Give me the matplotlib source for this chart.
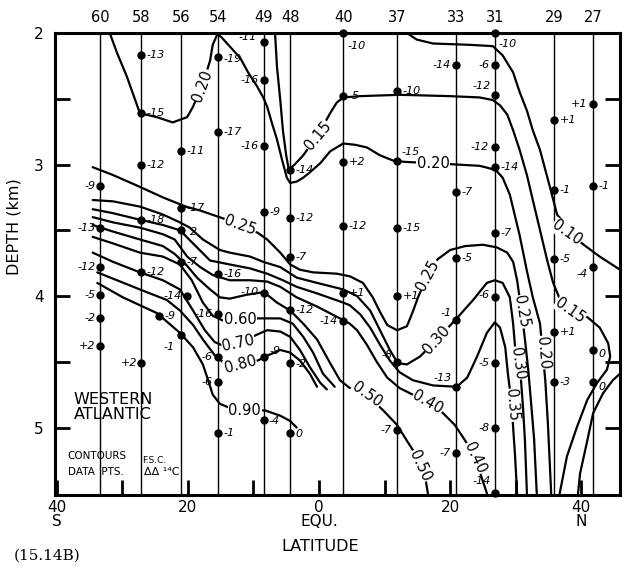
import matplotlib
matplotlib.use("Agg")
import matplotlib.pyplot as plt
import numpy as np

plt.rcParams['font.family'] = ['DejaVu Sans']

# stations (top labels) and their latitudes
station_names = ['60', '58', '56', '54', '49', '48', '40', '37', '33', '31', '29', '27']
station_lat = [-33.4, -27.1, -21.0, -15.4, -8.4, -4.4, 3.7, 11.9, 20.9, 26.8, 35.8, 41.8]

# data points: latitude, depth (km), delta-delta 14C value
pt_lat = ([-33.4] * 6 + [-27.1] * 6 + [-21.0] * 5 + [-24.4, -20.1] + [-15.4] * 7
          + [-8.4] * 7 + [-4.4] * 6 + [3.7] * 6 + [11.9] * 6 + [20.9] * 6
          + [26.8] * 10 + [35.8] * 5 + [41.8] * 5)
pt_depth = [3.16, 3.48, 3.78, 3.99, 4.17, 4.38,
            2.17, 2.61, 3.00, 3.42, 3.82, 4.51,
            2.90, 3.33, 3.50, 3.74, 4.30,
            4.15, 4.00,
            2.18, 2.75, 3.83, 4.14, 4.46, 4.65, 5.04,
            2.07, 2.36, 2.86, 3.36, 3.98, 4.46, 4.94,
            3.04, 3.41, 3.70, 4.11, 4.51, 5.04,
            2.00, 2.48, 2.98, 3.47, 3.98, 4.19,
            2.44, 2.97, 3.48, 4.00, 4.50, 5.02,
            2.24, 3.21, 3.71, 4.18, 4.69, 5.19,
            2.00, 2.24, 2.47, 2.87, 3.02, 3.52, 4.01, 4.51, 5.00, 5.50,
            2.66, 3.19, 3.72, 4.27, 4.65,
            2.54, 3.16, 3.78, 4.41, 4.65]
pt_text = ['-9', '-13', '-12', '-5', '-2', '+2',
           '-13', '-15', '-12', '-18', '-12', '+2',
           '-11', '-17', '2', '-7', '-1',
           '-9', '-14',
           '-19', '-17', '-16', '-16', '-6', '-6', '-1',
           '-11', '-16', '-16', '-9', '-10', '-9', '-4',
           '-14', '-12', '-7', '-12', '-2', '0',
           '-10', '-5', '+2', '-12', '+1', '-14',
           '-10', '-15', '-15', '+1', '-8', '-7',
           '-14', '-7', '-5', '-1', '-13', '-7',
           '-10', '-6', '-12', '-12', '-14', '-7', '-6', '-5', '-8', '-14',
           '+1', '-1', '-5', '+1', '-3',
           '+1', '-1', '-4', '0', '0']
# label offsets in points (style only)
pt_off = [(-3, 0), (-3, 0), (-3, 0), (-3, 0), (-3, 0), (-3, 0),
          (4, 0), (4, 0), (4, 0), (4, 0), (4, 0), (-3, 0),
          (4, 0), (4, 0), (6, -1), (4, 0), (-5, -8),
          (4, 0), (-4, 0),
          (4, -2), (4, 0), (4, 0), (-4, 0), (-4, 0), (-4, 0), (4, 0),
          (-5, 4), (-4, 0), (-4, 0), (4, 0), (-4, 1), (4, 4), (3, -1),
          (4, 0), (4, 0), (4, 0), (4, 0), (4, -1), (4, -1),
          (3, -9), (4, 0), (4, 0), (4, 0), (4, 0), (-4, 0),
          (4, 0), (3, 6), (4, 0), (4, 0), (-3, 5), (-4, 0),
          (-4, 0), (4, 0), (4, 0), (-3, 5), (-3, 6), (-4, 0),
          (3, -8), (-4, 0), (-3, 6), (-4, 0), (4, 0), (4, 0), (-4, 2), (-4, 0), (-4, 0), (-3, 9),
          (4, 0), (4, 0), (4, 0), (4, 0), (4, 0),
          (-4, 0), (4, 0), (-4, -5), (4, -3), (4, -4)]

# hand-drawn contour traces (latitude, depth)
c010_lat = [13.4, 14.9, 17.4, 23.0, 26.5, 28.0, 29.6, 30.6, 31.7, 32.6, 33.7, 35.2, 36.3, 39.3, 40.9, 42.8, 45.9]
c010_dep = [2.00, 2.05, 2.08, 2.09, 2.10, 2.17, 2.30, 2.45, 2.59, 2.74, 2.89, 3.17, 3.38, 3.57, 3.63, 3.70, 3.80]

c015_lat = [-6.7, -6.4, -5.9, -5.5, -5.0, -4.6, -3.7, -2.4, -0.2, 1.7, 2.7, 3.7, 6.3, 12.3, 19.9, 24.5, 26.5,
            27.6, 28.7, 29.6, 30.6, 31.7, 32.6, 33.7, 34.8, 35.7, 36.7, 38.3, 40.9, 42.8, 44.1, 44.4, 43.9,
            42.4, 40.9, 39.3, 37.8, 36.7]
c015_dep = [2.00, 2.26, 2.51, 2.74, 2.93, 3.04, 3.00, 2.93, 2.78, 2.61, 2.53, 2.49, 2.48, 2.47, 2.48, 2.49, 2.51,
            2.55, 2.62, 2.74, 2.89, 3.08, 3.27, 3.50, 3.73, 3.90, 4.02, 4.11, 4.16, 4.24, 4.36, 4.46, 4.56,
            4.66, 4.79, 5.00, 5.22, 5.50]

c020_lat = [-31.9, -30.8, -29.3, -27.3, -24.7, -22.3, -20.1, -19.2, -17.8, -16.6, -16.2, -15.5, -14.9, -14.0,
            -12.0, -10.8, -9.5, -8.5, -7.9, -7.2, -6.4, -5.6, -4.9, -4.4, -3.4, -2.4, -1.4, 0.2, 1.7, 3.7,
            5.5, 7.3, 9.3, 11.3, 13.1, 17.4, 21.0, 24.5, 26.1, 27.1, 28.0, 29.1, 30.6, 31.7, 32.6, 33.7,
            34.1, 34.5, 34.9, 35.4]
c020_dep = [2.00, 2.15, 2.33, 2.61, 2.64, 2.68, 2.64, 2.56, 2.40, 2.21, 2.09, 2.01, 2.03, 2.08,
            2.19, 2.30, 2.40, 2.49, 2.56, 2.68, 2.81, 2.97, 3.10, 3.14, 3.13, 3.10, 3.06, 2.99, 2.90, 2.84,
            2.85, 2.87, 2.93, 2.97, 2.98, 2.99, 3.00, 3.01, 3.03, 3.05, 3.10, 3.23, 3.54, 3.81, 4.01, 4.21,
            4.43, 4.64, 4.97, 5.50]

c025_lat = [-34.5, -31.4, -27.3, -23.8, -20.3, -18.1, -14.6, -12.0, -9.3, -7.9, -5.9, -4.4, -2.9, -0.9, 2.7,
            4.7, 6.7, 8.2, 9.3, 10.4, 11.9, 13.4, 14.3, 15.1, 16.6, 18.1, 20.0, 22.3, 25.0, 27.1, 28.7, 29.6,
            30.2, 30.9, 31.4, 31.9, 32.3, 32.8, 33.2]
c025_dep = [3.02, 3.08, 3.17, 3.25, 3.32, 3.35, 3.41, 3.46, 3.52, 3.57, 3.67, 3.76, 3.80, 3.82, 3.83,
            3.85, 3.90, 4.01, 4.12, 4.22, 4.26, 4.23, 4.12, 4.01, 3.84, 3.72, 3.65, 3.62, 3.61, 3.63, 3.67, 3.74,
            3.88, 4.12, 4.33, 4.56, 4.79, 5.09, 5.50]

c030_lat = [-34.5, -31.4, -27.3, -23.8, -21.2, -19.7, -17.7, -15.1, -13.6, -10.5, -8.5, -5.9, -3.4, -0.3, 3.7,
            5.8, 7.8, 9.3, 10.8, 12.0, 13.4, 15.4, 18.0, 21.0, 23.5, 25.6, 26.8, 28.0, 29.1, 29.6, 29.9, 30.3,
            30.8, 31.1, 31.4, 31.7]
c030_dep = [3.27, 3.28, 3.32, 3.38, 3.44, 3.48, 3.57, 3.65, 3.67, 3.70, 3.74, 3.78, 3.86, 3.90, 3.95,
            4.00, 4.11, 4.26, 4.41, 4.51, 4.52, 4.46, 4.33, 4.17, 4.03, 3.90, 3.88, 3.90, 4.01, 4.21, 4.39, 4.51,
            4.64, 4.84, 5.10, 5.50]

c035_lat = [-34.5, -31.4, -27.3, -23.8, -21.2, -18.6, -16.6, -13.6, -10.5, -7.9, -5.5, -3.4, -0.3, 3.7, 4.7,
            6.3, 7.8, 9.3, 10.8, 12.3, 14.3, 17.4, 21.0, 22.6, 24.1, 25.6, 26.8, 27.6, 28.4, 28.8, 29.4, 29.6,
            29.9, 30.2]
c035_dep = [3.34, 3.37, 3.42, 3.46, 3.50, 3.63, 3.73, 3.76, 3.79, 3.83, 3.88, 3.93, 3.98, 4.05, 4.07,
            4.14, 4.24, 4.37, 4.49, 4.58, 4.64, 4.68, 4.69, 4.62, 4.46, 4.28, 4.20, 4.24, 4.39, 4.59, 4.83, 5.00,
            5.22, 5.50]

c040_lat = [-34.5, -31.4, -27.3, -23.8, -22.0, -20.1, -18.1, -16.2, -13.6, -10.5, -7.9, -5.9, -3.4, -0.3, 3.2,
            4.7, 5.8, 7.3, 8.8, 10.4, 12.3, 14.3, 16.6, 18.9, 20.7, 22.3, 23.8, 24.8, 25.6]
c040_dep = [3.40, 3.44, 3.48, 3.53, 3.57, 3.70, 3.78, 3.84, 3.88, 3.88, 3.89, 3.93, 4.01, 4.08, 4.17,
            4.21, 4.26, 4.37, 4.50, 4.62, 4.70, 4.75, 4.81, 4.89, 4.98, 5.10, 5.23, 5.38, 5.50]

c050_lat = [-34.5, -31.4, -27.3, -23.8, -22.0, -20.1, -18.6, -16.6, -15.1, -13.6, -11.0, -8.4, -6.4, -4.4, -2.4,
            -0.3, 1.7, 3.2, 4.7, 7.3, 9.8, 11.9, 13.4, 14.3, 15.4, 16.3, 16.6]
c050_dep = [3.46, 3.51, 3.57, 3.62, 3.68, 3.77, 3.86, 3.95, 4.01, 4.02, 3.99, 3.97, 4.05, 4.11, 4.21,
            4.33, 4.51, 4.64, 4.70, 4.75, 4.87, 4.98, 5.10, 5.17, 5.29, 5.41, 5.50]

c060_lat = [-34.5, -31.4, -27.3, -23.8, -21.2, -19.4, -17.7, -16.2, -14.5, -12.0, -9.3, -5.9, -4.0, -2.4, -0.9, 0.6, 2.4]
c060_dep = [3.55, 3.60, 3.67, 3.70, 3.76, 3.88, 4.05, 4.15, 4.19, 4.18, 4.17, 4.17, 4.21, 4.31, 4.43, 4.59, 4.69]

c070_lat = [-34.5, -31.4, -27.3, -23.8, -21.2, -19.2, -17.4, -15.9, -14.5, -12.3, -9.3, -7.9, -5.9, -4.4, -2.9, -1.4, 0.2, 1.2]
c070_dep = [3.67, 3.74, 3.82, 3.88, 3.95, 4.11, 4.26, 4.35, 4.38, 4.36, 4.29, 4.26, 4.27, 4.31, 4.41, 4.54, 4.66, 4.71]

c080_lat = [-33.8, -30.3, -27.3, -23.2, -21.2, -19.2, -17.7, -15.9, -14.2, -12.0, -9.3, -8.2, -5.9, -4.4, -2.9, -1.4, -0.3]
c080_dep = [3.82, 3.89, 3.95, 4.03, 4.11, 4.22, 4.33, 4.45, 4.52, 4.52, 4.49, 4.46, 4.41, 4.43, 4.49, 4.59, 4.69]

c090_lat = [-33.8, -29.9, -24.7, -21.2, -19.2, -17.7, -16.9, -16.2, -15.1, -13.6, -11.3, -8.2, -5.9, -4.4, -3.4]
c090_dep = [3.90, 4.01, 4.13, 4.28, 4.39, 4.52, 4.64, 4.75, 4.82, 4.85, 4.87, 4.87, 4.91, 4.95, 5.00]

cx_lat = [39.5, 39.8, 40.9, 41.8, 43.3, 44.8, 45.9]
cx_dep = [5.50, 5.35, 5.10, 4.89, 4.74, 4.64, 4.59]

contours = [(c010_lat, c010_dep), (c015_lat, c015_dep), (c020_lat, c020_dep), (c025_lat, c025_dep),
            (c030_lat, c030_dep), (c035_lat, c035_dep), (c040_lat, c040_dep), (c050_lat, c050_dep),
            (c060_lat, c060_dep), (c070_lat, c070_dep), (c080_lat, c080_dep), (c090_lat, c090_dep),
            (cx_lat, cx_dep)]

# contour labels: text, latitude, depth, rotation
clab_text = ['0.20', '0.15', '0.20', '0.10', '0.25', '0.60', '0.70', '0.80', '0.90', '0.50', '0.50',
             '0.40', '0.40', '0.30', '0.25', '0.25', '0.30', '0.35', '0.20', '0.15']
clab_lat = [-17.8, -0.2, 17.4, 37.8, -12.0, -12.0, -12.3, -12.0, -11.3, 7.3, 15.4,
            16.6, 23.8, 18.0, 16.6, 30.9, 30.3, 29.4, 34.1, 38.3]
clab_dep = [2.40, 2.78, 2.99, 3.52, 3.46, 4.18, 4.36, 4.52, 4.87, 4.75, 5.29,
            4.81, 5.23, 4.33, 3.84, 4.12, 4.51, 4.83, 4.43, 4.11]
clab_rot = [70, 50, 0, -35, -20, 0, 12, 15, 0, -35, -65,
            -30, -65, 48, 62, -80, -82, -85, -85, -35]

fig = plt.figure(figsize=(6.26, 5.68), dpi=100)
ax = fig.add_axes([0.0879, 0.1285, 0.9026, 0.8134])
ax.set_xlim(-40.24, 45.9)
ax.set_ylim(5.513, 2.0)

ax.vlines(station_lat, 2.0, 5.513, color='black', lw=1.0, zorder=1)
for lat, dep in contours:
    ax.plot(lat, dep, color='black', lw=1.6, solid_capstyle='round', zorder=2)

for t, x, y, r in zip(clab_text, clab_lat, clab_dep, clab_rot):
    ax.text(x, y, t, rotation=r, ha='center', va='center', rotation_mode='anchor',
            fontsize=10.5, zorder=4,
            bbox=dict(facecolor='white', edgecolor='none', pad=0.3))

ax.plot(pt_lat, pt_depth, 'o', color='black', ms=5, zorder=5, clip_on=False)
for x, y, t, (dx, dy) in zip(pt_lat, pt_depth, pt_text, pt_off):
    ax.annotate(t, (x, y), xytext=(dx, dy), textcoords='offset points',
                ha='left' if dx > 0 else 'right', va='center',
                fontsize=8, fontstyle='italic', zorder=6)

ax.text(-31.4, 4.84, 'WESTERN\nATLANTIC', ha='center', va='center', fontsize=11.5, linespacing=1.0)
ax.text(-38.3, 5.22, 'CONTOURS', ha='left', va='center', fontsize=7.5)
ax.text(-38.3, 5.34, 'DATA  PTS.', ha='left', va='center', fontsize=7.5)
ax.text(-26.9, 5.25, 'F.S.C.', ha='left', va='center', fontsize=6.5)
ax.text(-26.6, 5.34, 'ΔΔ ¹⁴C', ha='left', va='center', fontsize=8)

# axes styling
for s in ax.spines.values():
    s.set_linewidth(2.2)
ax.set_yticks([2, 3, 4, 5])
ax.set_yticks([2.5, 3.5, 4.5], minor=True)
ax.set_xticks([-40, -20, 0, 20, 40])
ax.set_xticklabels(['40\nS', '20', '0\nEQU.', '20', '40\nN'], fontsize=11, linespacing=0.95)
ax.set_xticks([-30, -10, 10, 30], minor=True)
ax.tick_params(axis='both', which='both', direction='in', width=2, length=11,
               top=True, right=True, labelsize=11)
ax.tick_params(axis='y', which='both', pad=8)
ax.set_ylabel('DEPTH (km)', fontsize=11.5)
ax.yaxis.set_label_coords(-0.06, 0.58)
ax.set_xlabel('LATITUDE', fontsize=11.5)
ax.xaxis.set_label_coords(0.47, -0.095)

top = ax.twiny()
top.set_xlim(ax.get_xlim())
top.set_xticks(station_lat)
top.set_xticklabels(station_names, fontsize=10.5)
top.tick_params(axis='x', length=0, pad=6)
for s in top.spines.values():
    s.set_visible(False)

fig.text(14 / 626, 1 - 556 / 568, '(15.14B)', family='DejaVu Serif', fontsize=11, va='center')

fig.savefig('out.png', dpi=100)
